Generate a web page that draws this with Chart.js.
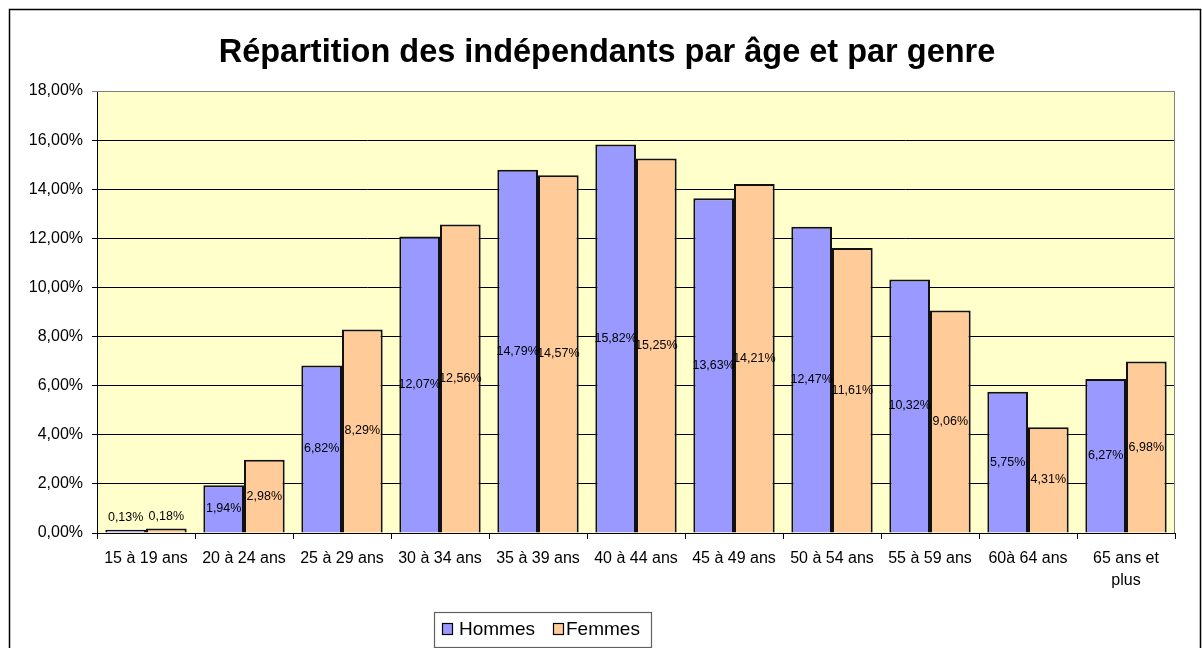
<!DOCTYPE html>
<html>
<head>
<meta charset="utf-8">
<script src="https://cdn.jsdelivr.net/npm/chart.js@4/dist/chart.umd.min.js"></script>
<style>
  html, body { margin: 0; padding: 0; background: #ffffff; }
  #wrap { width: 1202px; height: 648px; position: relative; }
</style>
</head>
<body>
<div id="wrap"><canvas id="c" width="1202" height="648"></canvas></div>
<script>
const chartTitle = "Répartition des indépendants par âge et par genre";
const categories = ["15 à 19 ans", "20 à 24 ans", "25 à 29 ans", "30 à 34 ans", "35 à 39 ans",
  "40 à 44 ans", "45 à 49 ans", "50 à 54 ans", "55 à 59 ans", "60à 64 ans", ["65 ans et", "plus"]];
const hommes = [0.13, 1.94, 6.82, 12.07, 14.79, 15.82, 13.63, 12.47, 10.32, 5.75, 6.27];
const femmes = [0.18, 2.98, 8.29, 12.56, 14.57, 15.25, 14.21, 11.61, 9.06, 4.31, 6.98];
const seriesNames = ["Hommes", "Femmes"];
const yMin = 0, yMax = 18, yStep = 2;

const FONT = "'Liberation Sans', Arial, sans-serif";
const fmt = v => v.toFixed(2).replace('.', ',') + '%';

const framePlugin = {
  id: 'frame',
  beforeDraw(chart) {
    const ctx = chart.ctx;
    const a = chart.chartArea;
    ctx.save();
    ctx.fillStyle = '#ffffff';
    ctx.fillRect(0, 0, chart.width, chart.height);
    ctx.strokeStyle = '#000000';
    ctx.lineWidth = 1.5;
    ctx.strokeRect(9.5, 9.5, 1191, 700);
    ctx.fillStyle = '#FFFFCC';
    ctx.fillRect(a.left, a.top, a.right - a.left, a.bottom - a.top);
    ctx.restore();
  },
  afterDraw(chart) {
    const ctx = chart.ctx;
    const a = chart.chartArea;
    ctx.save();
    ctx.strokeStyle = '#808080';
    ctx.lineWidth = 1;
    ctx.beginPath();
    ctx.moveTo(a.left, a.top + 0.5);
    ctx.lineTo(a.right - 0.5, a.top + 0.5);
    ctx.lineTo(a.right - 0.5, a.bottom);
    ctx.stroke();
    // title
    ctx.fillStyle = '#000000';
    ctx.font = "bold 32.5px " + FONT;
    ctx.textAlign = 'center';
    ctx.textBaseline = 'middle';
    ctx.fillText(chartTitle, 607, 53);
    // legend
    const lx = 434.5, ly = 612.5, lw = 217, lh = 35;
    ctx.fillStyle = '#ffffff';
    ctx.fillRect(lx, ly, lw, lh);
    ctx.strokeStyle = '#606060';
    ctx.lineWidth = 1.2;
    ctx.strokeRect(lx, ly, lw, lh);
    ctx.font = "19px " + FONT;
    ctx.textAlign = 'left';
    ctx.textBaseline = 'middle';
    const items = [
      { x: 442, tx: 459, ds: chart.data.datasets[0] },
      { x: 553, tx: 566, ds: chart.data.datasets[1] }
    ];
    items.forEach(it => {
      ctx.fillStyle = it.ds.backgroundColor;
      ctx.fillRect(it.x, 623, 10, 11);
      ctx.strokeStyle = '#000000';
      ctx.lineWidth = 1.2;
      ctx.strokeRect(it.x + 0.5, 623.5, 10, 11);
      ctx.fillStyle = '#000000';
      ctx.fillText(it.ds.label, it.tx, 630);
    });
    ctx.restore();
  },
  afterDatasetsDraw(chart) {
    const ctx = chart.ctx;
    ctx.save();
    ctx.font = "12.5px " + FONT;
    ctx.fillStyle = '#000000';
    ctx.textAlign = 'center';
    ctx.textBaseline = 'middle';
    chart.data.datasets.forEach((ds, di) => {
      const meta = chart.getDatasetMeta(di);
      meta.data.forEach((el, i) => {
        const h = el.base - el.y;
        const txt = fmt(ds.data[i]);
        if (h < 20) {
          ctx.fillText(txt, el.x, el.y - 12);
        } else {
          ctx.fillText(txt, el.x, (el.y + el.base) / 2);
        }
      });
    });
    ctx.restore();
  }
};

new Chart(document.getElementById('c'), {
  type: 'bar',
  data: {
    labels: categories,
    datasets: [
      { label: seriesNames[0], data: hommes, backgroundColor: '#9999FF', borderColor: '#111111', borderWidth: 2,
        categoryPercentage: 0.83, barPercentage: 1.0 },
      { label: seriesNames[1], data: femmes, backgroundColor: '#FFCC99', borderColor: '#111111', borderWidth: 2,
        categoryPercentage: 0.83, barPercentage: 1.0 }
    ]
  },
  options: {
    responsive: false,
    animation: false,
    devicePixelRatio: 1,
    layout: { padding: { left: 0, top: 91, right: 27, bottom: 0 } },
    plugins: {
      legend: { display: false },
      title: { display: false },
      tooltip: { enabled: false }
    },
    scales: {
      x: {
        offset: true,
        grid: { display: true, drawOnChartArea: false, drawTicks: true, tickLength: 6, color: '#000000', offset: true },
        border: { display: true, color: '#000000', width: 1 },
        ticks: { color: '#000000', font: { family: FONT, size: 16, lineHeight: 1.4 }, padding: 8, maxRotation: 0, autoSkip: false },
        afterFit(scale) { scale.height = 115; }
      },
      y: {
        min: yMin, max: yMax,
        grid: {
          color: ctx => (ctx.tick && ctx.tick.value === yMax) ? '#808080' : '#000000',
          lineWidth: 1, drawTicks: true, tickLength: 5
        },
        border: { display: true, color: '#000000', width: 1 },
        ticks: { stepSize: yStep, color: '#000000', font: { family: FONT, size: 16 }, padding: 9,
          callback: v => fmt(v) },
        afterFit(scale) { scale.width = 97; }
      }
    }
  },
  plugins: [framePlugin]
});
</script>
</body>
</html>
